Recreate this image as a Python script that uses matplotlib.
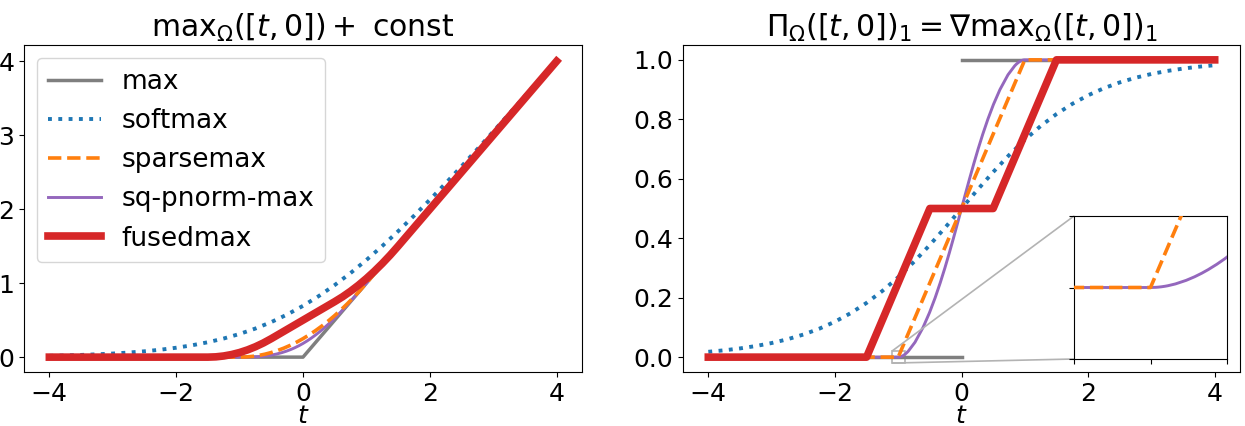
import numpy as np
import matplotlib
matplotlib.use("Agg")
import matplotlib.pyplot as plt
from mpl_toolkits.axes_grid1.inset_locator import mark_inset

plt.rcParams['font.family'] = ['DejaVu Sans']
plt.rcParams['mathtext.fontset'] = 'dejavusans'
FS = 18
FS_TITLE = 21.5
FS_LEG = 19

# ---------------- data ----------------
# max
t_max = [-4.0, 0.0, 4.0]
v_max = [0.0, 0.0, 4.0]
t_max_grad = [-4.0, 0.0, np.nan, 0.0, 4.0]
p_max_grad = [0.0, 0.0, np.nan, 1.0, 1.0]

# softmax
t_soft = [-4.0, -3.75, -3.5, -3.25, -3.0, -2.75, -2.5, -2.25, -2.0, -1.75, -1.5,
          -1.25, -1.0, -0.75, -0.5, -0.25, 0.0, 0.25, 0.5, 0.75, 1.0, 1.25, 1.5,
          1.75, 2.0, 2.25, 2.5, 2.75, 3.0, 3.25, 3.5, 3.75, 4.0]
v_soft = [0.018150, 0.023246, 0.029750, 0.038041, 0.048587, 0.061967, 0.078889,
          0.100203, 0.126928, 0.160220, 0.201413, 0.251929, 0.313262, 0.386871,
          0.474077, 0.576097, 0.693147, 0.826097, 0.974077, 1.136871, 1.313262,
          1.501929, 1.701413, 1.910220, 2.126928, 2.350203, 2.578889, 2.811967,
          3.048587, 3.288041, 3.529750, 3.773246, 4.018150]
p_soft = [0.017986, 0.022977, 0.029312, 0.037327, 0.047426, 0.060087, 0.075858,
          0.095349, 0.119203, 0.148047, 0.182426, 0.222700, 0.268941, 0.320821,
          0.377541, 0.437823, 0.5, 0.562177, 0.622459, 0.679179, 0.731059,
          0.777300, 0.817574, 0.851953, 0.880797, 0.904651, 0.924142, 0.939913,
          0.952574, 0.962673, 0.970688, 0.977023, 0.982014]

# sparsemax
t_sparse_v = [-4.0, -1.0, -0.9, -0.8, -0.7, -0.6, -0.5, -0.4, -0.3, -0.2, -0.1, 0.0,
              0.1, 0.2, 0.3, 0.4, 0.5, 0.6, 0.7, 0.8, 0.9, 1.0, 4.0]
v_sparse = [0.0, 0.0, 0.0025, 0.01, 0.0225, 0.04, 0.0625, 0.09, 0.1225, 0.16, 0.2025,
            0.25, 0.3025, 0.36, 0.4225, 0.49, 0.5625, 0.64, 0.7225, 0.81, 0.9025,
            1.0, 4.0]
t_sparse_p = [-4.0, -1.0, 1.0, 4.0]
p_sparse = [0.0, 0.0, 1.0, 1.0]

# sq-pnorm-max (p = 1.5)
t_pnorm = [-4.0, -1.0, -0.992879, -0.989900, -0.985660, -0.980947, -0.977149,
           -0.967404, -0.953352, -0.942362, -0.932960, -0.924576, -0.913299,
           -0.903133, -0.890810, -0.863989, -0.840820, -0.734987, -0.607317,
           -0.504820, -0.416018, -0.336142, -0.262515, -0.193343, -0.127265,
           -0.063155, 0.0, 0.063155, 0.127265, 0.193343, 0.262515, 0.336142,
           0.416018, 0.504820, 0.607317, 0.734987, 0.840820, 0.863989, 0.890810,
           0.903133, 0.913299, 0.924576, 0.932960, 0.942362, 0.953352, 0.967404,
           0.977149, 0.980947, 0.985660, 0.989900, 0.992879, 1.0, 4.0]
v_pnorm = [0.0, 0.0, 0.0000001, 0.0000003, 0.0000009, 0.0000020, 0.0000034,
           0.0000099, 0.000029, 0.000055, 0.000086, 0.000123, 0.000187,
           0.000261, 0.000374, 0.000711, 0.001116, 0.004722, 0.014146,
           0.026886, 0.042380, 0.060321, 0.080547, 0.103013, 0.127782,
           0.155023, 0.185020, 0.218178, 0.255047, 0.296356, 0.343062, 0.396463,
           0.458398, 0.531706, 0.621463, 0.739709, 0.841936, 0.864700, 0.891184,
           0.903394, 0.913486, 0.924699, 0.933046, 0.942417, 0.953381, 0.967414,
           0.977152, 0.980949, 0.985661, 0.989900, 0.992879, 1.0, 4.0]
p_pnorm = [0.0, 0.0, 0.00005, 0.0001, 0.0002, 0.00035, 0.0005, 0.001, 0.002, 0.003,
           0.004, 0.005, 0.0065, 0.008, 0.01, 0.015, 0.02, 0.05, 0.1, 0.15, 0.2,
           0.25, 0.3, 0.35, 0.4, 0.45, 0.5, 0.55, 0.6, 0.65, 0.7, 0.75, 0.8, 0.85,
           0.9, 0.95, 0.98, 0.985, 0.99, 0.992, 0.9935, 0.995, 0.996, 0.997, 0.998,
           0.999, 0.9995, 0.99965, 0.9998, 0.9999, 0.99995, 1.0, 1.0]

# fusedmax
t_fused_v = [-4.0, -1.5, -1.375, -1.25, -1.125, -1.0, -0.875, -0.75, -0.625, -0.5,
             0.5, 0.625, 0.75, 0.875, 1.0, 1.125, 1.25, 1.375, 1.5, 4.0]
v_fused = [0.0, 0.0, 0.00390625, 0.015625, 0.03515625, 0.0625, 0.09765625,
           0.140625, 0.19140625, 0.25, 0.75, 0.81640625, 0.890625, 0.97265625,
           1.0625, 1.16015625, 1.265625, 1.37890625, 1.5, 4.0]
t_fused_p = [-4.0, -1.5, -0.5, 0.5, 1.5, 4.0]
p_fused = [0.0, 0.0, 0.5, 0.5, 1.0, 1.0]

labels = ['max', 'softmax', 'sparsemax', 'sq-pnorm-max', 'fusedmax']
colors = ['tab:gray', 'tab:blue', 'tab:orange', 'tab:purple', 'tab:red']
styles = ['-', ':', '--', '-', '-']
widths = [2.5, 2.8, 2.6, 2.1, 5.5]
zorders = [2, 3, 5, 4, 6]

left_series = [(t_max, v_max), (t_soft, v_soft), (t_sparse_v, v_sparse),
               (t_pnorm, v_pnorm), (t_fused_v, v_fused)]
right_series = [(t_max_grad, p_max_grad), (t_soft, p_soft), (t_sparse_p, p_sparse),
                (t_pnorm, p_pnorm), (t_fused_p, p_fused)]

W, H = 1245, 426
fig = plt.figure(figsize=(W / 100, H / 100), dpi=100)

ax1 = fig.add_axes([24 / W, 54 / H, 558 / W, 327 / H])
ax2 = fig.add_axes([683 / W, 54 / H, 557 / W, 327 / H])


def draw(ax, series, with_labels=True, skip=()):
    for i, ((x, y), lab, c, ls, lw, z) in enumerate(
            zip(series, labels, colors, styles, widths, zorders)):
        if i in skip:
            continue
        ax.plot(x, y, ls, color=c, lw=lw, zorder=z, label=lab if with_labels else None)


draw(ax1, left_series)
draw(ax2, right_series)

ax1.set_title(r'$\mathrm{max}_\Omega([t, 0]) + $ const', fontsize=FS_TITLE)
ax2.set_title(r'$\Pi_\Omega([t, 0])_1 = \nabla \mathrm{max}_\Omega([t, 0])_1$',
              fontsize=FS_TITLE)
for ax in (ax1, ax2):
    ax.set_xlabel('$t$', fontsize=FS, labelpad=-1)
    ax.tick_params(labelsize=FS)
    ax.set_xticks([-4, -2, 0, 2, 4])
ax1.set_yticks([0, 1, 2, 3, 4])
ax2.set_yticks([0.0, 0.2, 0.4, 0.6, 0.8, 1.0])

ax1.legend(loc='upper left', fontsize=FS_LEG)

# inset
axins = fig.add_axes([1074 / W, 67 / H, 153 / W, 143 / H])
draw(axins, right_series, with_labels=False, skip=(0,))
axins.set_xlim(-1.1, -0.9)
axins.set_ylim(-0.02, 0.02)
axins.set_xticks([-1.1, -1.0, -0.9])
axins.set_yticks([-0.02, 0.0, 0.02])
axins.set_xticklabels([])
axins.set_yticklabels([])
mark_inset(ax2, axins, loc1=2, loc2=3, fc='none', ec='0.7', lw=1.2)

fig.savefig('out.png', dpi=100)
